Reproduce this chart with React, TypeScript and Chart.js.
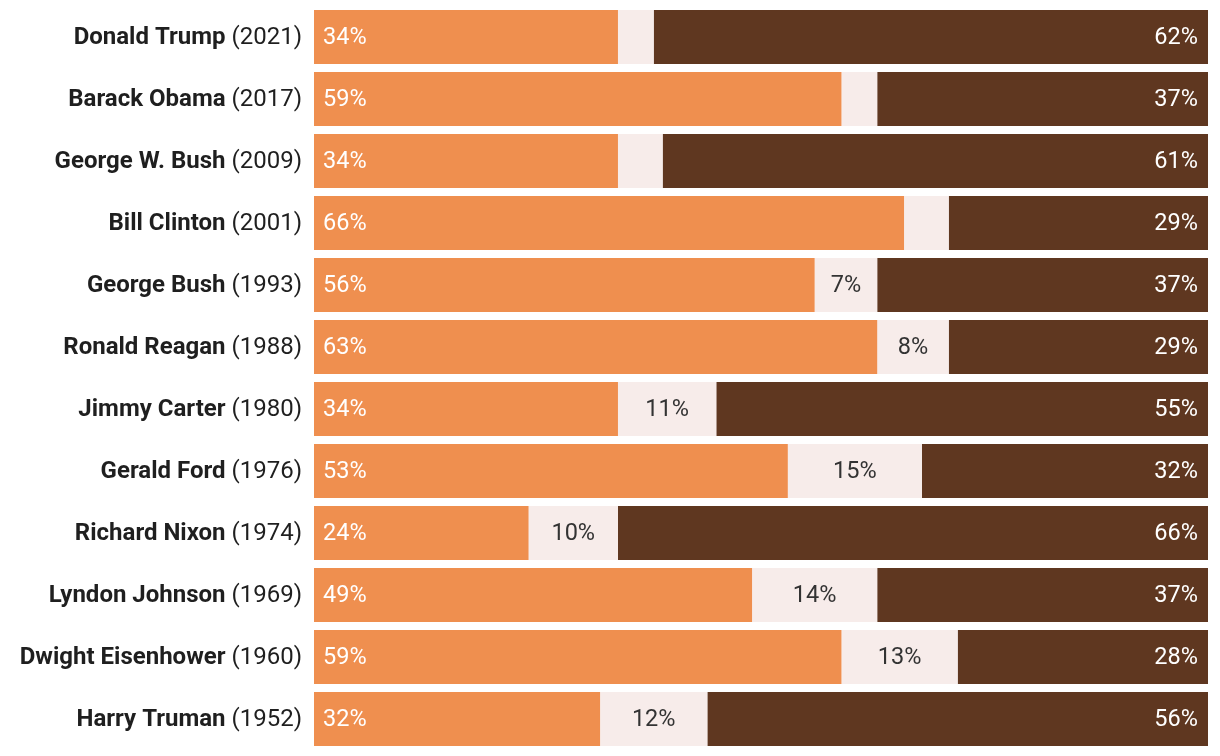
import React, { useEffect, useRef } from "react";
import { Chart, registerables } from "chart.js";

Chart.register(...registerables);

const names = [
  "Donald Trump",
  "Barack Obama",
  "George W. Bush",
  "Bill Clinton",
  "George Bush",
  "Ronald Reagan",
  "Jimmy Carter",
  "Gerald Ford",
  "Richard Nixon",
  "Lyndon Johnson",
  "Dwight Eisenhower",
  "Harry Truman",
];
const years = ["2021", "2017", "2009", "2001", "1993", "1988", "1980", "1976", "1974", "1969", "1960", "1952"];
const approve = [34, 59, 34, 66, 56, 63, 34, 53, 24, 49, 59, 32];
const noOpinion = [4, 4, 5, 5, 7, 8, 11, 15, 10, 14, 13, 12];
const disapprove = [62, 37, 61, 29, 37, 29, 55, 32, 66, 37, 28, 56];

const FONT = "Roboto, 'Noto Sans', sans-serif";

const labelPlugin = {
  id: "customLabels",
  afterDatasetsDraw(chart: any) {
    const ctx = chart.ctx;
    ctx.save();
    ctx.textBaseline = "middle";
    chart.data.datasets.forEach((ds: any, di: number) => {
      const meta = chart.getDatasetMeta(di);
      meta.data.forEach((bar: any, i: number) => {
        const v = ds.data[i];
        const left = Math.min(bar.x, bar.base);
        const right = Math.max(bar.x, bar.base);
        ctx.font = `400 23.5px ${FONT}`;
        if (di === 0) {
          ctx.fillStyle = "#ffffff";
          ctx.textAlign = "left";
          ctx.fillText(`${v}%`, left + 9, bar.y + 1);
        } else if (di === 1) {
          if (v >= 6) {
            ctx.fillStyle = "#333333";
            ctx.textAlign = "center";
            ctx.fillText(`${v}%`, (left + right) / 2, bar.y + 1);
          }
        } else {
          ctx.fillStyle = "#ffffff";
          ctx.textAlign = "right";
          ctx.fillText(`${v}%`, right - 10, bar.y + 1);
        }
      });
    });
    // y labels
    const meta0 = chart.getDatasetMeta(0);
    const xr = chart.chartArea.left - 12;
    meta0.data.forEach((bar: any, i: number) => {
      const yearText = ` (${years[i]})`;
      ctx.font = `400 24px ${FONT}`;
      const yw = ctx.measureText(yearText).width;
      ctx.fillStyle = "#1f1f1f";
      ctx.textAlign = "right";
      ctx.fillText(yearText, xr, bar.y + 1);
      ctx.font = `700 24px ${FONT}`;
      ctx.fillText(names[i], xr - yw, bar.y + 1);
    });
    ctx.restore();
  },
};

export default function App() {
  const ref = useRef<HTMLCanvasElement | null>(null);
  useEffect(() => {
    if (!ref.current) return;
    const chart = new Chart(ref.current, {
      type: "bar",
      data: {
        labels: names,
        datasets: [
          { label: "Approve", data: approve, backgroundColor: "#EF8F4F" },
          { label: "No opinion", data: noOpinion, backgroundColor: "#F7ECEA" },
          { label: "Disapprove", data: disapprove, backgroundColor: "#5F3720" },
        ],
      },
      options: {
        indexAxis: "y",
        animation: false,
        responsive: true,
        maintainAspectRatio: false,
        layout: { padding: { left: 314, right: 12, top: 6, bottom: 6 } },
        datasets: {
          bar: { categoryPercentage: 1, barPercentage: 54 / 62, borderWidth: 0 },
        },
        scales: {
          x: { stacked: true, min: 0, max: 100, display: false },
          y: { stacked: true, display: false },
        },
        plugins: {
          legend: { display: false },
          tooltip: { enabled: false },
        },
      },
      plugins: [labelPlugin],
    });
    return () => chart.destroy();
  }, []);
  return (
    <div style={{ position: "absolute", left: 0, top: 0, width: 1220, height: 756 }}>
      <canvas ref={ref} />
    </div>
  );
}
